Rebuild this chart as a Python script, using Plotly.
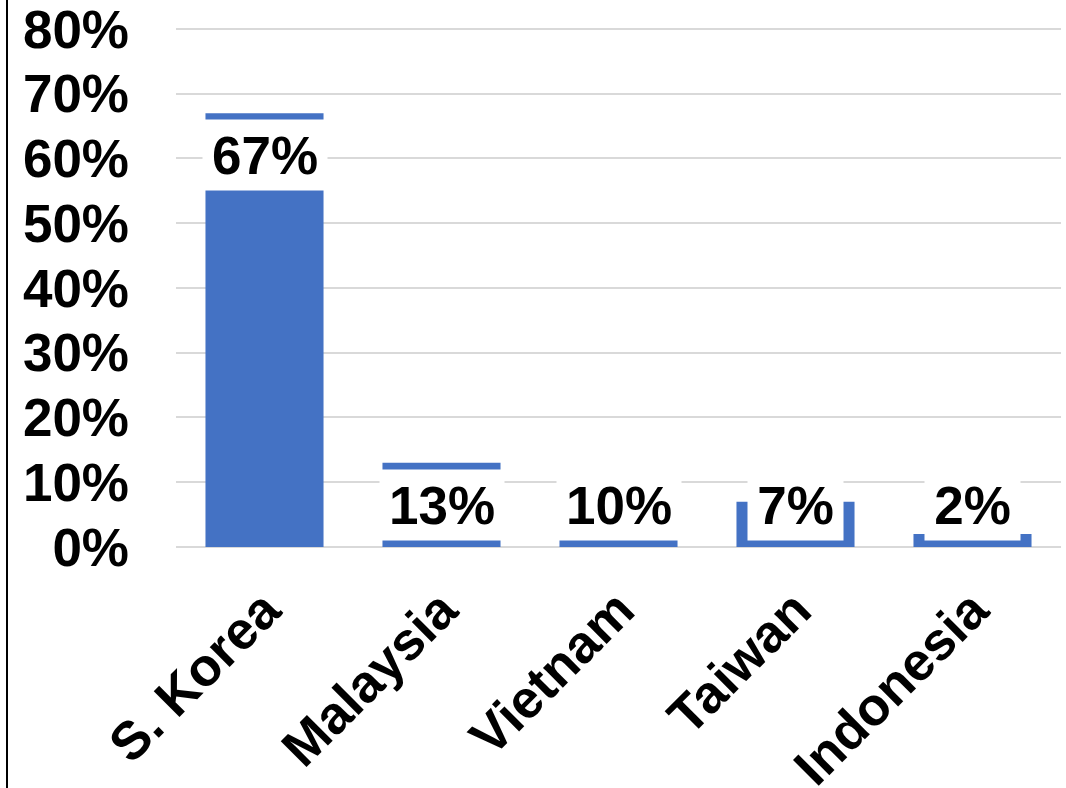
import plotly.graph_objects as go

categories = ["S. Korea", "Malaysia", "Vietnam", "Taiwan", "Indonesia"]
shares = [0.67, 0.13, 0.10, 0.07, 0.02]
tick_values = [0, 0.1, 0.2, 0.3, 0.4, 0.5, 0.6, 0.7, 0.8]
tick_labels = ["0%", "10%", "20%", "30%", "40%", "50%", "60%", "70%", "80%"]

FONT = "Liberation Sans, Arial, sans-serif"
BLUE = "#4472C4"
GRID = "#D9D9D9"
FS = 53

fig = go.Figure()
fig.add_trace(go.Bar(x=categories, y=shares, marker=dict(color=BLUE, line=dict(width=0)),
                     width=0.667, hoverinfo="skip"))

min_label_y = 0.13
for c, v in zip(categories, shares):
    txt = f"<b>{round(v*100)}%</b>"
    w = 104 if len(str(round(v*100))) == 2 else 75
    fig.add_annotation(x=c, y=max(v, min_label_y), xref="x", yref="y",
                       text=txt, showarrow=False, yanchor="top", yshift=-6,
                       bgcolor="white", borderpad=0, width=w + 20, height=70,
                       font=dict(family=FONT, size=FS, color="black"))

fig.add_shape(type="line", xref="paper", yref="paper",
              x0=-(176 - 7) / 885, x1=-(176 - 7) / 885, y0=-241 / 521, y1=1 + 26 / 521,
              line=dict(color="black", width=2))

fig.update_layout(
    width=1066, height=788,
    margin=dict(l=176, r=5, t=26, b=241, autoexpand=False),
    paper_bgcolor="white", plot_bgcolor="white",
    showlegend=False,
    font=dict(family=FONT, size=FS, color="black"),
    xaxis=dict(tickangle=-45, tickfont=dict(family=FONT, size=FS, color="black", weight="bold"),
               showgrid=False, showline=False, zeroline=False, ticklabelstandoff=20,
               ticklabeloverflow="allow", automargin=False),
    yaxis=dict(range=[0, 0.8046], tickvals=tick_values, ticktext=tick_labels,
               tickfont=dict(family=FONT, size=FS, color="black", weight="bold"),
               showgrid=True, gridcolor=GRID, gridwidth=2,
               zeroline=True, zerolinecolor=GRID, zerolinewidth=2,
               showline=False, ticklabelstandoff=46, ticklabeloverflow="allow",
               automargin=False),
)

fig.write_html("out.html", config={"displayModeBar": False},
               post_script="document.body.style.margin='0';document.body.style.overflow='hidden';")
